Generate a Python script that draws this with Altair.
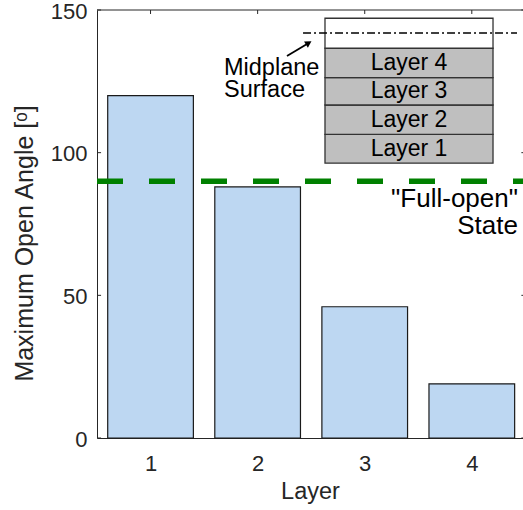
import altair as alt
import pandas as pd

# ---- data ----
layers = [1, 2, 3, 4]
max_open_angle = [120, 88, 46, 19]
full_open_angle = 90
y_ticks = [0, 50, 100, 150]
stack_labels = ["Layer 1", "Layer 2", "Layer 3", "Layer 4"]
stack_bounds = [96.3, 106.4, 116.7, 126.3, 136.6]   # inset stack (data units)
stack_top = 147.1
midplane_y = 141.9

FONT = "Liberation Sans, Arial, Helvetica, DejaVu Sans"
TXT = "#262626"
X_LO, X_HI = 0.5, 4.478
xs = alt.Scale(domain=[X_LO, X_HI], nice=False, zero=False)
ys = alt.Scale(domain=[0, 150], nice=False, zero=False)

base_ax = dict(labelFont=FONT, labelColor=TXT, titleFont=FONT, titleColor=TXT,
               titleFontWeight="normal", ticks=False, tickSize=0, grid=False,
               domainColor=TXT, domainWidth=1, labelFlush=False, labelOverlap=False,
               format="d")
x_axis = alt.Axis(values=layers, title="Layer", labelFontSize=22, labelPadding=15.5,
                  titleFontSize=23.5, titleY=60, titleBaseline="alphabetic", **base_ax)
y_axis = alt.Axis(values=y_ticks, title="Maximum Open Angle [ᵒ]", labelFontSize=22,
                  labelPadding=10, labelOffset=1, titleFontSize=25, titleX=-65,
                  titleY=233, titleBaseline="alphabetic", titleAlign="center", **base_ax)


def X(f):
    return alt.X(f + ":Q", scale=xs, axis=x_axis, title="Layer")


def Y(f):
    return alt.Y(f + ":Q", scale=ys, axis=y_axis, title="Maximum Open Angle [ᵒ]")


def rule_seg(rows, **mark):
    df = pd.DataFrame(rows, columns=["x", "x2", "y", "y2"])
    return alt.Chart(df).mark_rule(**mark).encode(
        x=X("x"), x2="x2:Q", y=Y("y"), y2="y2:Q")


def text_at(rows, **mark):
    df = pd.DataFrame(rows, columns=["x", "y", "t"])
    return alt.Chart(df).mark_text(**mark).encode(x=X("x"), y=Y("y"), text="t:N")


bars_df = pd.DataFrame({"layer": layers, "angle": max_open_angle})

tick = dict(color=TXT, strokeWidth=1)
left_ticks = rule_seg([[X_LO, X_LO + 0.038, v, v] for v in y_ticks], **tick)
right_ticks = rule_seg([[4.4627, X_HI, v, v] for v in y_ticks], **tick)
top_ticks = rule_seg([[v, v, 150, 148.6] for v in layers], **tick)
top_line = rule_seg([[X_LO, X_HI, 150, 150]], **tick)

bars = alt.Chart(bars_df).transform_calculate(
    x0="datum.layer - 0.4", x1="datum.layer + 0.4", base="0"
).mark_rect(fill="#BDD7F2", stroke="#1a1a1a", strokeWidth=1.2).encode(
    x=X("x0"), x2="x1:Q", y=Y("angle"), y2="base:Q",
)

full_open = rule_seg([[X_LO, X_HI, full_open_angle, full_open_angle]],
                     color="#008000", strokeWidth=5.5, strokeDash=[26, 26])
full_open_txt = text_at([[4.431, 81.0, '"Full-open"\nState']],
                        font=FONT, fontSize=26, color="black", align="right",
                        baseline="alphabetic", lineBreak="\n", lineHeight=27)

# inset: layer stack
box_df = pd.DataFrame({
    "x": [2.629] * 5, "x2": [4.198] * 5,
    "lo": stack_bounds,
    "hi": stack_bounds[1:] + [stack_top],
    "label": stack_labels + [""],
    "fill": ["#BFBFBF"] * 4 + ["#FFFFFF"],
})
stack_rects = alt.Chart(box_df).mark_rect(stroke="#333333", strokeWidth=1.3).encode(
    x=X("x"), x2="x2:Q", y=Y("lo"), y2="hi:Q",
    fill=alt.Fill("fill:N", scale=None))
stack_text = alt.Chart(box_df).transform_calculate(
    mid="(datum.lo + datum.hi) / 2", cx="(datum.x + datum.x2) / 2"
).mark_text(font=FONT, fontSize=23, color="black", baseline="middle",
            align="center").encode(x=X("cx"), y=Y("mid"), text="label:N")
midplane = rule_seg([[2.424, 4.422, midplane_y, midplane_y]],
                    color="black", strokeWidth=1.5, strokeDash=[8, 3, 2, 3])

mid_txt = text_at([[1.686, 127.2, "Midplane\nSurface"]],
                  font=FONT, fontSize=23.5, color="black", align="left",
                  baseline="alphabetic", lineBreak="\n", lineHeight=22)
arrow_line = rule_seg([[2.274, 2.477, 133.9, 138.45]], color="black", strokeWidth=1.8)
head_df = pd.DataFrame({"x": [2.477], "y": [138.45]})
arrow_head = alt.Chart(head_df).mark_point(
    shape="triangle-up", filled=True, color="black", size=55, angle=59,
    opacity=1).encode(x=X("x"), y=Y("y"))

chart = alt.layer(
    bars, left_ticks, right_ticks, top_ticks, top_line, full_open,
    full_open_txt, stack_rects, stack_text, midplane,
    mid_txt, arrow_line, arrow_head,
).properties(
    width=426, height=428,
    autosize=alt.AutoSizeParams(type="none"),
    padding={"left": 97, "top": 10, "right": 0, "bottom": 72},
    background="white",
).configure_view(strokeWidth=0)

chart.save("out.html", embed_options={"renderer": "svg", "actions": False})
